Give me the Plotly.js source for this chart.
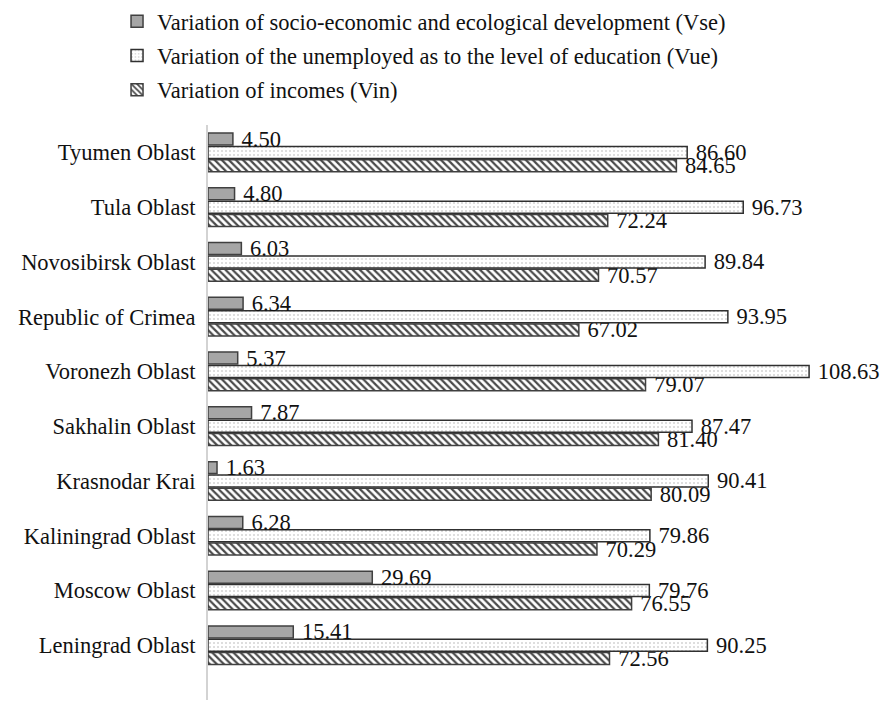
<!DOCTYPE html>
<html>
<head>
<meta charset="utf-8">
<script src="https://cdn.plot.ly/plotly-3.0.1.min.js"></script>
<style>html,body{margin:0;padding:0;background:#fff;}#chart{width:887px;height:701px;}</style>
</head>
<body>
<div id="chart"></div>
<script>
// Categories listed bottom to top
const regions = ["Leningrad Oblast","Moscow Oblast","Kaliningrad Oblast","Krasnodar Krai","Sakhalin Oblast","Voronezh Oblast","Republic of Crimea","Novosibirsk Oblast","Tula Oblast","Tyumen Oblast"];
const vse = [15.41, 29.69, 6.28, 1.63, 7.87, 5.37, 6.34, 6.03, 4.80, 4.50];
const vue = [90.25, 79.76, 79.86, 90.41, 87.47, 108.63, 93.95, 89.84, 96.73, 86.60];
const vin = [72.56, 76.55, 70.29, 80.09, 81.40, 79.07, 67.02, 70.57, 72.24, 84.65];
const seriesNames = [
  "Variation of socio-economic and ecological development (Vse)",
  "Variation of the unemployed as to the level of education (Vue)",
  "Variation of incomes (Vin)"
];

const font = {family: "'Liberation Serif'", size: 22.5, color: "#111"};
const common = {
  type: "bar", orientation: "h", y: regions,
  textposition: "outside", constraintext: "none", cliponaxis: false,
  texttemplate: "\u00a0%{x:.2f}", textfont: font, hoverinfo: "x+y"
};

const traces = [
  Object.assign({}, common, {
    name: seriesNames[2], x: vin, legendgroup: "c", legendrank: 3,
    marker: {color: "#ffffff", line: {color: "#404040", width: 1.5},
      pattern: {shape: "\\", fgcolor: "#4a4a4a", bgcolor: "#ffffff", size: 5, solidity: 0.45}}
  }),
  Object.assign({}, common, {
    name: seriesNames[1], x: vue, legendgroup: "b", legendrank: 2,
    marker: {color: "#ffffff", line: {color: "#303030", width: 1.5},
      pattern: {shape: ".", fgcolor: "#d4d4d4", bgcolor: "#ffffff", size: 4, solidity: 0.2}}
  }),
  Object.assign({}, common, {
    name: seriesNames[0], x: vse, legendgroup: "a", legendrank: 1,
    marker: {color: "#a6a6a6", line: {color: "#404040", width: 1.5}}
  })
];

const layout = {
  width: 887, height: 701,
  margin: {l: 208, r: 15, t: 125, b: 1, autoexpand: false},
  paper_bgcolor: "#fff", plot_bgcolor: "#fff",
  font: font,
  barmode: "group", bargap: 0.27, bargroupgap: 0.1,
  showlegend: true,
  legend: {
    x: -0.137, xanchor: "left", yref: "container", y: 1, yanchor: "top",
    traceorder: "grouped", tracegroupgap: 2,
    font: font, bgcolor: "rgba(0,0,0,0)"
  },
  xaxis: {range: [0, 120], showgrid: false, zeroline: false, showticklabels: false, showline: false, ticks: ""},
  yaxis: {
    type: "category", range: [-1.0, 9.5], showgrid: false, zeroline: false,
    showline: true, linecolor: "#d3d3d3", linewidth: 2,
    ticks: "", ticklabelstandoff: 6, tickfont: font
  }
};

Plotly.newPlot("chart", traces, layout, {displayModeBar: false, staticPlot: true});
</script>
</body>
</html>
